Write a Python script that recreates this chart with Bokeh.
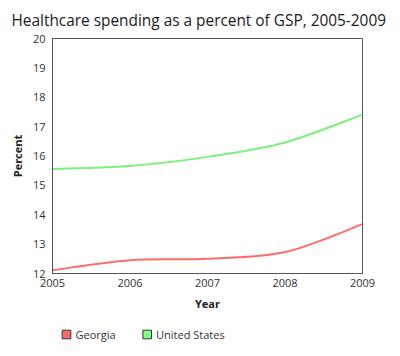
from bokeh.plotting import figure
from bokeh.models import Range1d, FixedTicker, ColumnDataSource
from bokeh.core.properties import value
from bokeh.layouts import column
from bokeh.embed import file_html
from bokeh.resources import INLINE

years = [2005, 2006, 2007, 2008, 2009]
georgia = [12.11, 12.45, 12.50, 12.73, 13.68]
united_states = [15.56, 15.66, 15.97, 16.46, 17.41]
y_ticks = [12, 13, 14, 15, 16, 17, 18, 19, 20]
x_ticks = years
series_names = ["Georgia", "United States"]
line_colors = ["#ff6b6b", "#7df07d"]
swatch_colors = ["#ff6666", "#80ff80"]

FONT = "Open Sans"
TEXT = "#333333"


def catmull_rom(xs, ys):
    n = len(xs)
    x0, y0, x1, y1, cx0, cy0, cx1, cy1 = [], [], [], [], [], [], [], []
    for i in range(n - 1):
        pxm, pym = (xs[i - 1], ys[i - 1]) if i > 0 else (xs[i], ys[i])
        pxp, pyp = (xs[i + 2], ys[i + 2]) if i + 2 < n else (xs[i + 1], ys[i + 1])
        x0.append(xs[i]); y0.append(ys[i])
        x1.append(xs[i + 1]); y1.append(ys[i + 1])
        cx0.append(xs[i] + (xs[i + 1] - pxm) / 6.0)
        cy0.append(ys[i] + (ys[i + 1] - pym) / 6.0)
        cx1.append(xs[i + 1] - (pxp - xs[i]) / 6.0)
        cy1.append(ys[i + 1] - (pyp - ys[i]) / 6.0)
    return dict(x0=x0, y0=y0, x1=x1, y1=y1, cx0=cx0, cy0=cy0, cx1=cx1, cy1=cy1)


W = 392
FL, FR = 52, 362  # frame left/right in pixels
p = figure(width=W, height=318, output_backend="svg", toolbar_location=None,
           x_range=Range1d(2005, 2009), y_range=Range1d(12, 20),
           min_border_left=FL, min_border_right=W - FR, min_border_top=37, min_border_bottom=45,
           title="Healthcare spending as a percent of GSP, 2005-2009")

p.title.text_font = FONT
p.title.text_font_size = "15.4px"
p.title.text_font_style = "normal"
p.title.text_color = "#1a1a1a"
p.title.align = "left"
p.title.offset = -41
p.title.standoff = 15

p.xgrid.visible = False
p.ygrid.visible = False
p.outline_line_color = "#555555"
p.outline_line_width = 1
p.background_fill_color = "white"
p.border_fill_color = "white"

for ax in (p.xaxis[0], p.yaxis[0]):
    ax.axis_line_color = "#555555"
    ax.major_tick_line_color = None
    ax.minor_tick_line_color = None
    ax.major_tick_out = 0
    ax.major_tick_in = 0
    ax.major_label_text_font = FONT
    ax.major_label_text_font_size = "11px"
    ax.major_label_text_color = TEXT
    ax.axis_label_text_font = FONT
    ax.axis_label_text_font_size = "11px"
    ax.axis_label_text_font_style = "bold"
    ax.axis_label_text_color = "#222222"

p.xaxis.ticker = FixedTicker(ticks=x_ticks)
p.yaxis.ticker = FixedTicker(ticks=y_ticks)
p.xaxis.axis_label = "Year"
p.yaxis.axis_label = "Percent"
p.yaxis.major_label_standoff = 7
p.xaxis.major_label_standoff = 5
p.yaxis.axis_label_standoff = 5
p.xaxis.axis_label_standoff = 6

for vals, col in zip([georgia, united_states], line_colors):
    src = ColumnDataSource(catmull_rom(years, vals))
    p.bezier(x0="x0", y0="y0", x1="x1", y1="y1", cx0="cx0", cy0="cy0", cx1="cx1", cy1="cy1",
             source=src, line_color=col, line_width=2)

# legend strip: its frame is aligned with the main frame; coordinates are pixels (top = 0)
LH = 37
lg = figure(width=W, height=LH, output_backend="svg", toolbar_location=None,
            x_range=Range1d(FL, FR), y_range=Range1d(LH, 0),
            min_border_left=FL, min_border_right=W - FR, min_border_top=0, min_border_bottom=0,
            outline_line_color=None)
lg.axis.visible = False
lg.grid.visible = False
swatch_x = [66, 146.7]
label_x = [75, 155.5]
lg.rect(x=swatch_x, y=[16, 16], width=8.6, height=8.6, fill_color=swatch_colors,
        line_color="#333333", line_width=1)
lg.text(x=label_x, y=[15.5, 15.5], text=series_names, text_font=value(FONT),
        text_font_size="11px", text_color=TEXT, text_baseline="middle", text_align="left")

layout = column(p, lg, spacing=0)
open("out.html", "w").write(file_html(layout, INLINE))
